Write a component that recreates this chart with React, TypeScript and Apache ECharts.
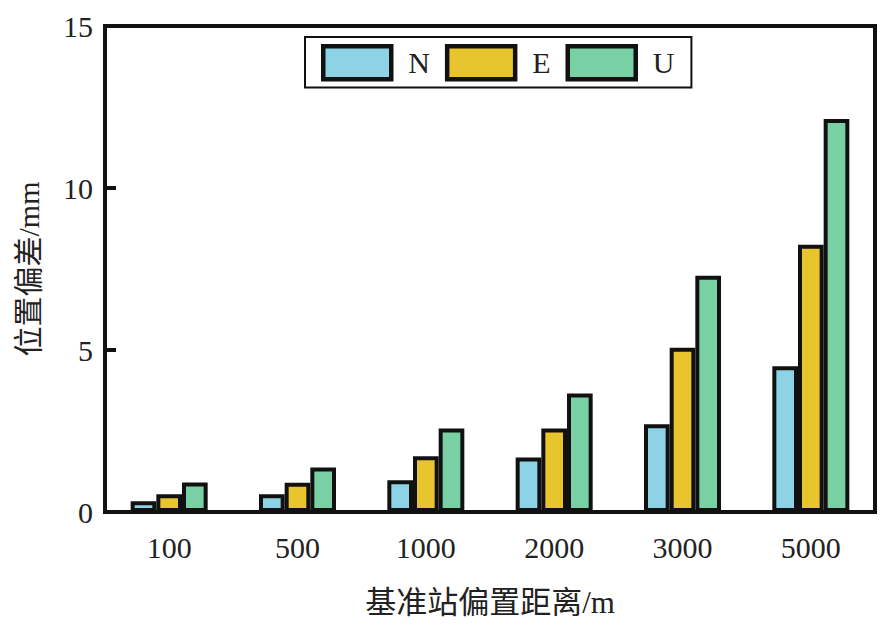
import React, { useEffect, useRef } from "react";
import * as echarts from "echarts";

const categories = ["100", "500", "1000", "2000", "3000", "5000"];
const seriesNames = ["N", "E", "U"];
const valuesN = [0.33, 0.55, 0.98, 1.68, 2.71, 4.5];
const valuesE = [0.55, 0.9, 1.72, 2.58, 5.07, 8.25];
const valuesU = [0.91, 1.37, 2.58, 3.66, 7.29, 12.13];
const yTicks = [0, 5, 10, 15];

const colors = ["#8ed2e5", "#e8c42e", "#79d0a4"];
const FONT = "'Liberation Serif', 'Times New Roman', 'Noto Sans CJK SC', serif";

export default function App() {
  const ref = useRef<HTMLDivElement>(null);
  useEffect(() => {
    if (!ref.current) return;
    const chart = echarts.init(ref.current, undefined, { renderer: "svg" });
    const data = [valuesN, valuesE, valuesU];
    chart.setOption({
      animation: false,
      backgroundColor: "#ffffff",
      textStyle: { fontFamily: FONT },
      grid: {
        left: 105,
        right: 11,
        top: 26,
        bottom: 117,
        show: true,
        borderColor: "#111",
        borderWidth: 4,
        backgroundColor: "transparent",
      },
      legend: {
        data: seriesNames,
        left: 305,
        top: 37,
        orient: "horizontal",
        icon: "rect",
        itemWidth: 68,
        itemHeight: 33,
        itemGap: 15,
        padding: [7, 17, 6, 16],
        borderColor: "#111",
        borderWidth: 2,
        backgroundColor: "#fff",
        itemStyle: { borderWidth: 4.5, borderColor: "#111" },
        textStyle: {
          fontFamily: FONT,
          fontSize: 30,
          color: "#222",
          padding: [0, 0, 0, 12],
        },
      },
      xAxis: {
        type: "category",
        data: categories,
        name: "基准站偏置距离/m",
        nameLocation: "middle",
        nameGap: 75,
        nameTextStyle: { fontFamily: FONT, fontSize: 31, color: "#222" },
        axisLine: { lineStyle: { color: "#111", width: 4 } },
        axisTick: { show: false },
        axisLabel: { fontFamily: FONT, fontSize: 30, color: "#222", margin: 20 },
        splitLine: { show: false },
      },
      yAxis: {
        type: "value",
        min: yTicks[0],
        max: yTicks[yTicks.length - 1],
        interval: 5,
        name: "位置偏差/mm",
        nameLocation: "middle",
        nameGap: 62,
        nameTextStyle: { fontFamily: FONT, fontSize: 30, color: "#222" },
        axisLine: { show: true, lineStyle: { color: "#111", width: 4 } },
        axisTick: { show: true, inside: true, length: 11, lineStyle: { color: "#111", width: 4 } },
        axisLabel: { fontFamily: FONT, fontSize: 30, color: "#222", margin: 12 },
        splitLine: { show: false },
      },
      series: seriesNames.map((name, i) => ({
        name,
        type: "bar",
        data: data[i],
        barWidth: "20%",
        barGap: "0%",
        itemStyle: {
          color: colors[i],
          borderColor: "#111",
          borderWidth: 4,
        },
      })),
    });
    return () => chart.dispose();
  }, []);
  return <div ref={ref} style={{ width: 886, height: 629, margin: -8 }} />;
}
